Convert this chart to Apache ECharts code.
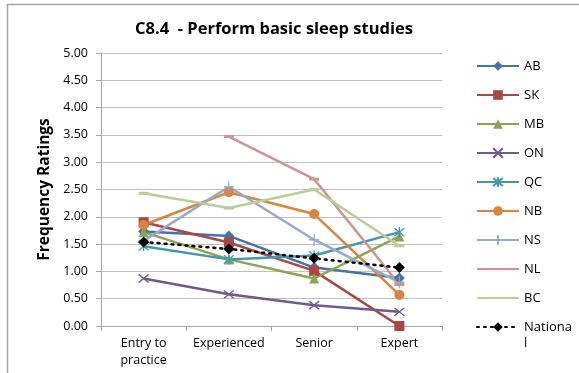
<!DOCTYPE html>
<html><head><meta charset="utf-8">
<script src="https://cdn.jsdelivr.net/npm/echarts@6/dist/echarts.min.js"></script>
<style>html,body{margin:0;padding:0;background:#fff}#c{width:579px;height:373px}</style>
</head><body><div id="c"></div>
<script>
const categories = ['Entry to\npractice', 'Experienced', 'Senior', 'Expert'];
const yTicks = [0, 5, 0.5];
const AB = [1.73, 1.65, 1.07, 0.88];
const SK = [1.90, 1.53, 1.01, 0.00];
const MB = [1.72, 1.22, 0.87, 1.64];
const ON = [0.87, 0.58, 0.38, 0.26];
const QC = [1.46, 1.22, 1.29, 1.72];
const NB = [1.85, 2.45, 2.05, 0.57];
const NS = [1.56, 2.55, 1.58, 0.80];
const NL = [null, 3.47, 2.69, 0.76];
const BC = [2.43, 2.16, 2.50, 1.47];
const National = [1.54, 1.41, 1.24, 1.07];

const X = 'path://M0,0L10,10M10,0L0,10';
const STAR = 'path://M0,0L10,10M10,0L0,10M5,-1L5,11';
const PLUS = 'path://M5,0L5,10M0,5L10,5';
const DASH = 'path://M0,0L10,0L10,2L0,2Z';

function s(name, data, color, symbol, size, stroke) {
  const o = {
    name, type: 'line', data, symbol, symbolSize: size,
    lineStyle: {color, width: 2.5},
    itemStyle: {color},
    emphasis: {disabled: true}
  };
  if (stroke) {
    o.itemStyle = {color: 'rgba(0,0,0,0)', borderColor: color, borderWidth: 1.3};
  }
  return o;
}

const series = [
  s('AB', AB, '#4572A7', 'diamond', 11),
  s('SK', SK, '#AA4643', 'rect', 10),
  s('MB', MB, '#89A54E', 'triangle', 10),
  s('ON', ON, '#71588F', X, [10, 8], true),
  s('QC', QC, '#4198AF', STAR, [10, 10], true),
  s('NB', NB, '#DB843D', 'circle', 10),
  s('NS', NS, '#93A9CF', PLUS, [10, 12], true),
  s('NL', NL, '#D19392', DASH, [10, 3]),
  s('BC', BC, '#B9CD96', DASH, [10, 3]),
  {
    name: 'National', type: 'line', data: National, symbol: 'diamond', symbolSize: 11,
    lineStyle: {color: '#000', width: 2.5, type: [2, 5], cap: 'round'},
    itemStyle: {color: '#000'},
    emphasis: {disabled: true}
  }
];

const legendData = series.filter(x => x.name !== 'National').map(x => (x.name === 'NL' || x.name === 'BC')
  ? {name: x.name, itemStyle: {opacity: 0}} : {name: x.name});

const legendText = {fontFamily: 'Open Sans', fontSize: 13, color: '#000', lineHeight: 16};

const chart = echarts.init(document.getElementById('c'), null, {renderer: 'canvas'});
chart.setOption({
  animation: false,
  backgroundColor: '#fff',
  title: {
    text: 'C8.4  - Perform basic sleep studies',
    left: 269, top: 16, textAlign: 'center',
    textStyle: {fontFamily: 'Open Sans', fontSize: 16.5, fontWeight: 'bold', color: '#000'}
  },
  graphic: [
    {type: 'line', shape: {x1: 7.5, y1: 4, x2: 7.5, y2: 373}, style: {stroke: '#a6a6a6', lineWidth: 1.5}},
    {type: 'line', shape: {x1: 7, y1: 4.5, x2: 579, y2: 4.5}, style: {stroke: '#a6a6a6', lineWidth: 1.5}}
  ],
  legend: [{
    orient: 'vertical', left: 476, top: 58, padding: 0,
    itemWidth: 42, itemHeight: 12, itemGap: 13,
    textStyle: legendText,
    data: legendData
  }, {
    orient: 'vertical', left: 476, top: 303, padding: 0,
    itemWidth: 42, itemHeight: 12,
    textStyle: legendText,
    formatter: () => '\nNationa\nl',
    data: ['National']
  }],
  grid: {left: 101, right: 137, top: 53, bottom: 47},
  xAxis: {
    type: 'category', data: categories, boundaryGap: true,
    axisLine: {lineStyle: {color: '#a6a6a6', width: 1}},
    axisTick: {show: true, alignWithLabel: false, length: 5, lineStyle: {color: '#a6a6a6'}},
    axisLabel: {fontFamily: 'Open Sans', fontSize: 12.5, color: '#000', margin: 9, lineHeight: 17, interval: 0}
  },
  yAxis: {
    type: 'value', min: yTicks[0], max: yTicks[1], interval: yTicks[2],
    name: 'Frequency Ratings', nameLocation: 'middle', nameGap: 48,
    nameTextStyle: {fontFamily: 'Open Sans', fontSize: 15.5, fontWeight: 'bold', color: '#000'},
    axisLine: {show: true, lineStyle: {color: '#a6a6a6', width: 1}},
    axisTick: {show: true, length: 5, lineStyle: {color: '#a6a6a6'}},
    splitLine: {lineStyle: {color: '#bfbfbf', width: 1}},
    axisLabel: {fontFamily: 'Open Sans', fontSize: 12.5, color: '#000', margin: 13, formatter: v => v.toFixed(2)}
  },
  series
});
</script></body></html>
